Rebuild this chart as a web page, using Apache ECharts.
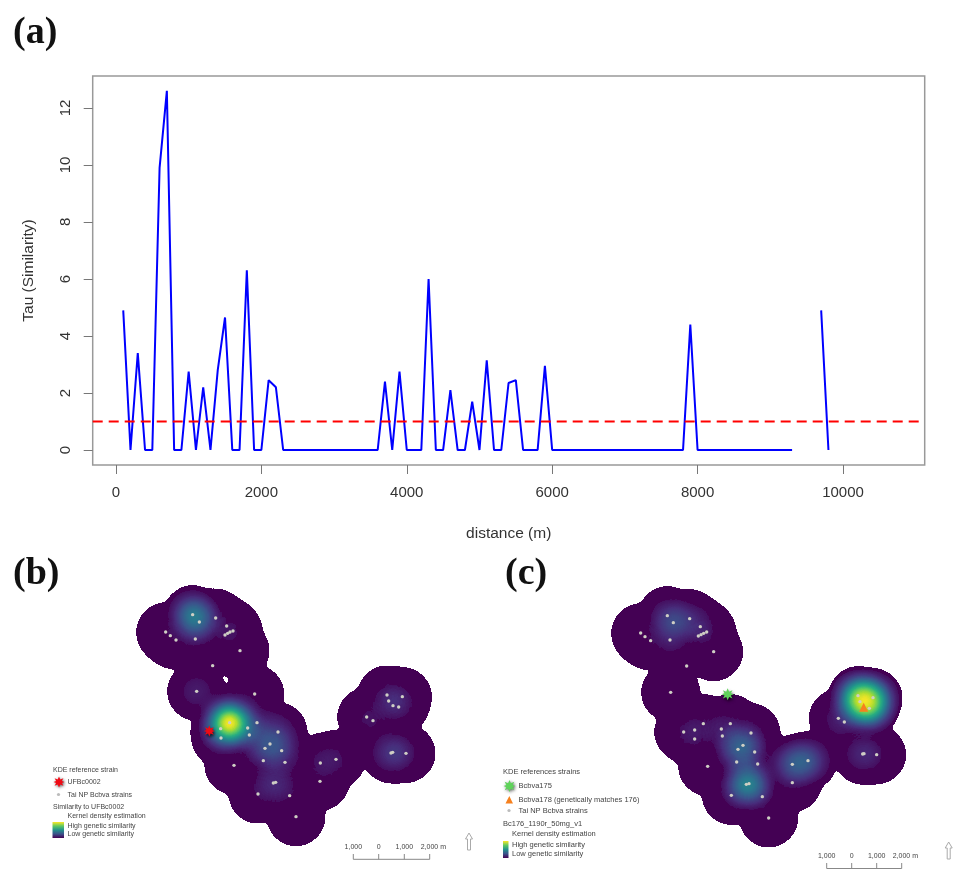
<!DOCTYPE html>
<html><head><meta charset="utf-8">
<style>html,body{margin:0;padding:0;background:#fff}#c{width:959px;height:869px;filter:blur(0.5px)}</style>
<script src="https://cdn.jsdelivr.net/npm/echarts@6/dist/echarts.min.js"></script>
</head><body><div id="c"></div>
<script>
// (a) Tau similarity by distance
const distanceM = [100,200,300,400,500,600,700,800,900,1000,1100,1200,1300,1400,1500,1600,1700,1800,1900,2000,2100,2200,2300,2400,2500,2600,2700,2800,2900,3000,3100,3200,3300,3400,3500,3600,3700,3800,3900,4000,4100,4200,4300,4400,4500,4600,4700,4800,4900,5000,5100,5200,5300,5400,5500,5600,5700,5800,5900,6000,6100,6200,6300,6400,6500,6600,6700,6800,6900,7000,7100,7200,7300,7400,7500,7600,7700,7800,7900,8000,8100,8200,8300,8400,8500,8600,8700,8800,8900,9000,9100,9200,9300,9400,9500,9600,9700,9800];
const tau = [4.9,0,3.4,0,0,9.9,12.6,0,0,2.75,0,2.2,0,2.8,4.65,0,0,6.3,0,0,2.45,2.2,0,0,0,0,0,0,0,0,0,0,0,0,0,0,2.4,0,2.75,0,0,0,6.0,0,0,2.1,0,0,1.7,0,3.15,0,0,2.35,2.45,0,0,0,2.95,0,0,0,0,0,0,0,0,0,0,0,0,0,0,0,0,0,0,0,4.4,0,0,0,0,0,0,0,0,0,0,0,0,0,0,null,null,null,4.9,0];
const threshold = 1;
const xTicks = [0,2000,4000,6000,8000,10000];
const yTicks = [0,2,4,6,8,10,12];

// (b), (c) strain locations on the map grid: [east, south, similarity weight]
const strainsB = [[578,194,.35],[598,216,.15],[647,204,.02],[680,228,.02],[497,246,.015],[511,257,.015],[528,270,.015],[586,267,.03],[675,255,.01],[683,250,.01],[690,246,.01],[699,243,.01],[720,302,.015],
 [590,424,.08],[764,432,.03],
 [689,518,1],[662,536,.1],[663,564,.05],[743,534,.07],[748,555,.07],[771,518,.07],[834,546,.1],[810,582,.1],[795,595,.1],[845,602,.1],[790,632,.03],[855,637,.03],[702,646,.02],[820,699,.06],[827,697,.06],[774,732,.03],[869,737,.03],[888,800,.015],
 [961,639,.05],[1008,628,.05],[960,694,.02],
 [1161,435,.04],[1207,440,.04],[1166,453,.04],[1179,467,.04],[1196,471,.04],[1100,501,.03],[1119,512,.03],[1173,609,.08],[1178,607,.08],[1218,610,.04]];
const strainsC = [[562,197,.07],[580,218,.15],[629,206,.08],[661,230,.05],[482,249,.015],[495,260,.015],[512,272,.015],[570,270,.06],[655,258,.015],[663,254,.015],[671,250,.015],[680,246,.015],[701,305,.01],
 [572,427,.03],
 [670,521,.03],[751,521,.03],[611,546,.03],[644,540,.03],[644,567,.03],[724,537,.04],[727,558,.04],[813,549,.04],[789,586,.17],[774,598,.17],[824,606,.04],[770,636,.03],[833,642,.02],[683,649,.02],[799,703,.25],[807,701,.25],[754,736,.03],[847,740,.03],[866,804,.015],
 [937,643,.22],[984,632,.22],[937,698,.02],
 [1134,437,.45],[1179,443,.45],[1140,455,.45],[1168,475,.45],[1075,505,.05],[1093,516,.05],[1148,612,.06],[1152,611,.06],[1190,614,.02]];
// strains in the surveyed area with no kernel around them
const unweightedB = [[638,347]];
const unweightedC = [[620,348]];
const refStrainB = [[628,543]];
const refStrainC = [[743,433]];
const matchStrainC = [[1151,472]];
const viridis = ['#440154','#472d7b','#3b528b','#2c728e','#21918c','#28ae80','#5ec962','#addc30','#fde725'];
const legendRamp = ['#fde725','#5ec962','#21918c','#3b528b','#440154'];

const FONT = 'Liberation Sans';
const STAR_PTS = [[50,0],[62,28],[90,15],[76,42],[100,50],[76,60],[90,85],[62,72],[50,100],[38,72],[10,85],[24,60],[0,50],[24,42],[10,15],[38,28]];
const STAR = 'path://M' + STAR_PTS.map(p=>p.join(',')).join(' L') + ' Z';
const Y = viridis[8];
const heatRamp = viridis.concat([Y,Y,Y,Y]);
const hullRamp = [viridis[0],viridis[0]];
const NONE = ['rgba(0,0,0,0)'];

echarts.registerMap('site', {type:'FeatureCollection',features:[{type:'Feature',properties:{name:'site'},
  geometry:{type:'Polygon',coordinates:[[[0,0],[1440,0],[1440,-960],[0,-960],[0,0]]]}}]});
const pos = a => a.map(p => [p[0], -p[1]]);
const geo = (left) => ({map:'site',left,top:550,width:480,height:320,aspectScale:1,silent:true,roam:false,
  itemStyle:{color:'rgba(0,0,0,0)',borderWidth:0},label:{show:false},emphasis:{disabled:true}});
const panelSeries = (gi, strains, unweighted) => [
  {type:'heatmap',coordinateSystem:'geo',geoIndex:gi,data:strains.map(p=>[p[0],-p[1],1]),pointSize:27,blurSize:6,minOpacity:1,maxOpacity:1,silent:true,z:2},
  {type:'heatmap',coordinateSystem:'geo',geoIndex:gi,data:strains.map(p=>[p[0],-p[1],p[2]]),pointSize:14,blurSize:20,minOpacity:1,maxOpacity:1,silent:true,z:3},
  {type:'scatter',coordinateSystem:'geo',geoIndex:gi,data:pos(strains.concat(unweighted)),symbol:'circle',symbolSize:3.4,silent:true,z:4,
   itemStyle:{color:'#cfcfc4',opacity:1}}
];
const txt = (x,y,text,size,extra) => ({type:'text',x,y,z:20,silent:true,style:Object.assign({text,fontFamily:FONT,fontSize:size||7,fill:'#444',textVerticalAlign:'middle'},extra||{})});
const seg = (x1,y1,x2,y2) => ({type:'line',z:20,silent:true,shape:{x1,y1,x2,y2},style:{stroke:'#888',lineWidth:1}});
const grad = (x,y,w,h) => ({type:'rect',z:20,silent:true,shape:{x,y,width:w,height:h},style:{fill:new echarts.graphic.LinearGradient(0,0,0,1,legendRamp.map((c,i)=>({offset:i/4,color:c})))}});
const panelLabel = (x,y,t) => ({type:'text',x,y,z:20,silent:true,style:{text:t,fontFamily:'Liberation Serif',fontWeight:'bold',fontSize:38,fill:'#111',textVerticalAlign:'middle'}});
const arrow = (x,y1,y2) => ({type:'polyline',z:20,silent:true,shape:{points:[[x-1.5,y2],[x-1.5,y1+6],[x-3.5,y1+6],[x,y1],[x+3.5,y1+6],[x+1.5,y1+6],[x+1.5,y2],[x-1.5,y2]]},style:{stroke:'#aaa',lineWidth:1,fill:'none'}});
const starShape = (x,y,s,fill) => ({type:'polygon',z:20,silent:true,shape:{points:STAR_PTS.map(p=>[x+p[0]*s/100,y+p[1]*s/100])},style:{fill,shadowColor:'rgba(0,0,0,.6)',shadowBlur:3,shadowOffsetX:1,shadowOffsetY:1}});
const scale = (xs,yl,y1,y2,labels) => [
  seg(xs[0],y2,xs[3],y2), ...xs.map(x=>seg(x,y1,x,y2)),
  ...labels.map((l,i)=> i===3 ? txt(xs[3]-9,yl,l,7,{textAlign:'left'}) : txt(xs[i],yl,l,7,{textAlign:'center'}))
];

const chart = echarts.init(document.getElementById('c'),null,{renderer:'canvas'});
chart.setOption({
  animation:false,
  backgroundColor:'#fff',
  grid:{left:92.7,top:76,width:832,height:389,show:true,borderColor:'#999',borderWidth:1.5,backgroundColor:'#fff'},
  xAxis:{type:'value',min:-320,max:11124,name:'distance (m)',nameLocation:'middle',nameGap:61,
    nameTextStyle:{fontFamily:FONT,fontSize:15.5,color:'#333'},
    splitLine:{show:false},axisLine:{show:false,onZero:false},
    axisTick:{show:true,length:9,lineStyle:{color:'#777',width:1},customValues:xTicks},
    axisLabel:{fontFamily:FONT,fontSize:15,color:'#333',margin:20,customValues:xTicks,formatter:v=>String(v)}},
  yAxis:{type:'value',min:-0.526,max:13.12,name:'Tau (Similarity)',nameLocation:'middle',nameGap:56,
    nameTextStyle:{fontFamily:FONT,fontSize:15.5,color:'#333'},
    splitLine:{show:false},axisLine:{show:false,onZero:false},
    axisTick:{show:true,length:9,lineStyle:{color:'#777',width:1},customValues:yTicks},
    axisLabel:{fontFamily:FONT,fontSize:15,color:'#333',margin:19,rotate:90,customValues:yTicks,formatter:v=>String(v)}},
  geo:[geo(0),geo(480)],
  visualMap:[
    {type:'continuous',show:false,min:0,max:1,range:[.2,1],seriesIndex:[2,6],inRange:{color:hullRamp},outOfRange:{color:NONE}},
    {type:'continuous',show:false,min:0,max:1,range:[.03,1],seriesIndex:[3,7],inRange:{color:heatRamp},outOfRange:{color:NONE}}
  ],
  series:[
    {type:'line',data:distanceM.map((d,i)=>[d,tau[i]]),showSymbol:false,connectNulls:false,silent:true,z:3,
     lineStyle:{color:'#0000ff',width:2}},
    {type:'line',data:[[-320,threshold],[11124,threshold]],showSymbol:false,silent:true,z:4,
     lineStyle:{color:'#ff0000',width:2,type:[10,6]}},
    ...panelSeries(0,strainsB,unweightedB),
    {type:'scatter',coordinateSystem:'geo',geoIndex:0,data:pos(refStrainB),symbol:STAR,symbolSize:11,silent:true,z:6,
     itemStyle:{color:'#f00a14',opacity:1,shadowColor:'rgba(0,0,0,.7)',shadowBlur:3,shadowOffsetX:1,shadowOffsetY:2}},
    ...panelSeries(1,strainsC,unweightedC),
    {type:'scatter',coordinateSystem:'geo',geoIndex:1,data:pos(refStrainC),symbol:STAR,symbolSize:12,silent:true,z:6,
     itemStyle:{color:'#5fd35a',opacity:1,shadowColor:'rgba(0,0,0,.7)',shadowBlur:3,shadowOffsetX:1,shadowOffsetY:2}},
    {type:'scatter',coordinateSystem:'geo',geoIndex:1,data:pos(matchStrainC),symbol:'triangle',symbolSize:9,silent:true,z:6,
     itemStyle:{color:'#f6801e',opacity:1}}
  ],
  graphic:{elements:[
    panelLabel(13,33,'(a)'),panelLabel(13,574,'(b)'),panelLabel(505,574,'(c)'),
    // legend b
    txt(53,770,'KDE reference strain'),
    starShape(53.5,776.5,11,'#f00a14'),
    txt(67.5,782,'UFBc0002'),
    {type:'circle',z:20,silent:true,shape:{cx:58.5,cy:794.5,r:1.6},style:{fill:'#bbb'}},
    txt(67.5,795,'Tai NP Bcbva strains'),
    txt(53,807,'Similarity to UFBc0002'),
    txt(67.5,816,'Kernel density estimation'),
    grad(52.5,822,11.5,16),
    txt(67.5,826,'High genetic similarity'),
    txt(67.5,834,'Low genetic similarity'),
    ...scale([353.3,378.7,404.3,429.7],847,854,859.3,['1,000','0','1,000','2,000 m']),
    arrow(469,833,850),
    // legend c
    txt(503,772,'KDE references strains',7.5),
    starShape(503.5,780,12,'#5fd35a'),
    txt(518.5,786,'Bcbva175',7.5),
    {type:'polygon',z:20,silent:true,shape:{points:[[505.5,803.5],[509.3,796],[513,803.5]]},style:{fill:'#f6801e'}},
    txt(518.5,800,'Bcbva178 (genetically matches 176)',7.5),
    {type:'circle',z:20,silent:true,shape:{cx:509,cy:810.5,r:1.6},style:{fill:'#bbb'}},
    txt(518.5,811,'Tai NP Bcbva strains',7.5),
    txt(503,823.5,'Bc176_1190r_50mg_v1',7.5),
    txt(512,834,'Kernel density estimation',7.5),
    grad(503,841,5.5,17),
    txt(512,845,'High genetic similarity',7.5),
    txt(512,853.5,'Low genetic similarity',7.5),
    ...scale([826.7,851.7,876.7,901.7],855.7,863,868.5,['1,000','0','1,000','2,000 m']),
    arrow(948.7,842,859)
  ]}
});
</script></body></html>
